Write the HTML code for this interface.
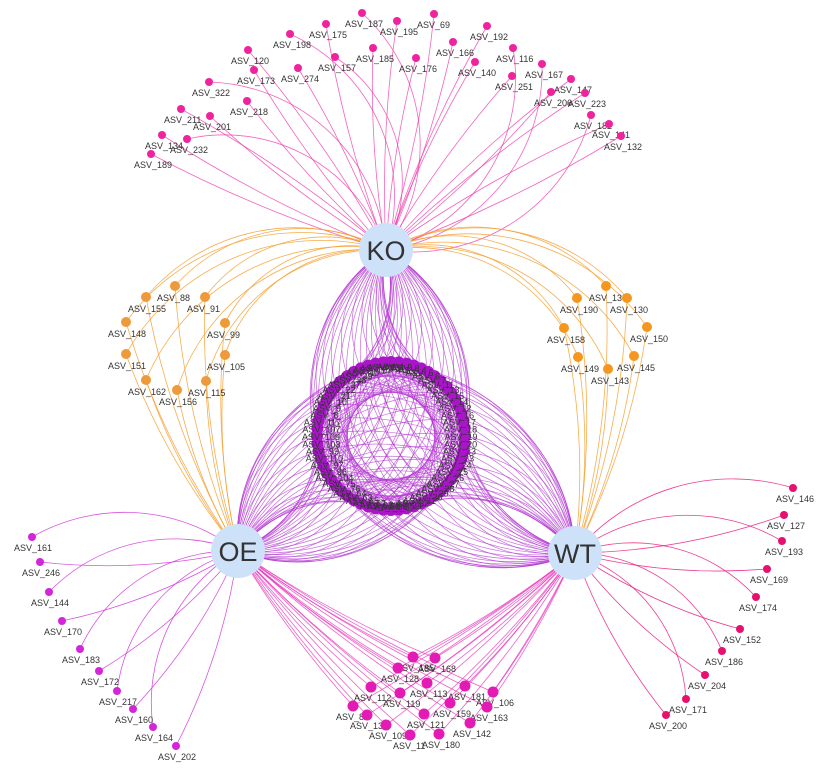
<!DOCTYPE html>
<html><head><meta charset="utf-8">
<style>
html,body{margin:0;padding:0;background:#fff;}
svg{display:block;font-family:"Liberation Sans",Arial,sans-serif;}
.lbl{font-size:9px;fill:#333;}
</style></head>
<body>
<svg id="net" width="817" height="769" viewBox="0 0 817 769">
<g id="edges"></g>
<g id="nodes"></g>
</svg>
<script>
// ---- data: hubs and member nodes per group ----
const hubNames = ["KO","OE","WT"];
const koOnly = ["ASV_187","ASV_195","ASV_69","ASV_175","ASV_198","ASV_192","ASV_120","ASV_185","ASV_157","ASV_176","ASV_166","ASV_140","ASV_116","ASV_173","ASV_274","ASV_251","ASV_167","ASV_147","ASV_206","ASV_223","ASV_322","ASV_218","ASV_211","ASV_201","ASV_182","ASV_141","ASV_132","ASV_134","ASV_232","ASV_189"];
const koOe = ["ASV_88","ASV_155","ASV_91","ASV_148","ASV_99","ASV_151","ASV_105","ASV_162","ASV_115","ASV_156"];
const koWt = ["ASV_138","ASV_190","ASV_130","ASV_158","ASV_150","ASV_149","ASV_145","ASV_143"];
const oeOnly = ["ASV_161","ASV_246","ASV_144","ASV_170","ASV_183","ASV_172","ASV_217","ASV_160","ASV_164","ASV_202"];
const wtOnly = ["ASV_146","ASV_127","ASV_193","ASV_169","ASV_174","ASV_152","ASV_186","ASV_204","ASV_171","ASV_200"];
const oeWt = ["ASV_185","ASV_168","ASV_128","ASV_112","ASV_113","ASV_181","ASV_106","ASV_119","ASV_82","ASV_159","ASV_163","ASV_136","ASV_121","ASV_109","ASV_142","ASV_11","ASV_180"];
const core = ["ASV_1","ASV_2","ASV_3","ASV_4","ASV_5","ASV_6","ASV_7","ASV_11","ASV_13","ASV_15","ASV_14","ASV_12","ASV_16","ASV_17","ASV_18","ASV_19","ASV_20","ASV_33","ASV_23","ASV_24","ASV_25","ASV_26","ASV_27","ASV_28","ASV_29","ASV_30","ASV_31","ASV_32","ASV_34","ASV_35","ASV_36","ASV_68","ASV_61","ASV_57","ASV_65","ASV_63","ASV_64","ASV_76","ASV_75","ASV_104","ASV_96","ASV_97","ASV_110","ASV_99","ASV_103","ASV_109","ASV_107","ASV_117","ASV_8","ASV_9","ASV_10","ASV_21","ASV_22","ASV_37","ASV_38","ASV_39","ASV_40","ASV_41","ASV_42","ASV_43"];

// ---- layout (positions, not data) ----
const hubPos = {KO:[386,250],OE:[238,551],WT:[575,553]};
const koOnlyPos = [[362,13],[397,21],[434,14],[326,24],[290,34],[487,26],[248,50],[373,48],[335,57],[416,58],[453,42],[475,62],[513,48],[254,70],[298,68],[512,76],[542,64],[571,79],[551,92],[585,93],[209,82],[247,101],[181,109],[210,116],[591,115],[609,124],[621,136],[162,135],[187,139],[151,154]];
const koOePos = [[175,286],[146,297],[205,297],[126,322],[225,323],[126,354],[225,355],[146,380],[206,381],[177,390]];
const koWtPos = [[606,286],[577,298],[627,298],[564,328],[647,327],[578,357],[634,356],[608,369]];
const oeOnlyPos = [[32,537],[40,562],[49,592],[62,621],[80,649],[99,671],[117,691],[133,709],[153,727],[176,746]];
const wtOnlyPos = [[793,488],[784,515],[782,541],[767,569],[756,597],[740,629],[722,651],[705,675],[686,699],[666,715]];
const oeWtPos = [[413,657],[435,658],[398,668],[371,687],[427,683],[465,686],[493,692],[400,693],[353,706],[450,703],[487,707],[367,715],[424,714],[386,725],[470,723],[410,735],[439,734]];
const coreC=[391,436], coreR=74;

const NS="http://www.w3.org/2000/svg";
const E=document.getElementById('edges'), N=document.getElementById('nodes');
function mk(t,a,p){const e=document.createElementNS(NS,t);for(const k in a)e.setAttribute(k,a[k]);p.appendChild(e);return e;}
function arc(p,q,color,w,op,curv,sweep){
  const dx=q[0]-p[0],dy=q[1]-p[1],d=Math.hypot(dx,dy),r=d*curv;
  const e=mk('path',{d:`M${p[0]},${p[1]}A${r},${r} 0 0,${sweep} ${q[0]},${q[1]}`,fill:'none',stroke:color,'stroke-width':w,'stroke-opacity':op},E);
  
  
}
function node(pos,r,fill,name,lx,ly,anchor){
  const c=mk('circle',{cx:pos[0],cy:pos[1],r:r,fill:fill},N);
  
  
  const t=mk('text',{x:lx,y:ly,'class':'lbl','text-anchor':anchor||'start'},N);
  t.textContent=name;
  
  
}
const KO=hubPos.KO,OE=hubPos.OE,WT=hubPos.WT;
// edges
koOnly.forEach((n,i)=>{const p=koOnlyPos[i];arc(KO,p,'#f032a8',0.8,0.75,i%4===0?0.75:5,i%2);});
koOe.forEach((n,i)=>{const p=koOePos[i];arc(KO,p,'#f5a030',0.8,0.85,0.8,0);arc(OE,p,'#f5a030',0.8,0.85,3,1);});
koWt.forEach((n,i)=>{const p=koWtPos[i];arc(KO,p,'#f5a030',0.8,0.85,0.8,1);arc(WT,p,'#f5a030',0.8,0.85,3,0);});
oeOnly.forEach((n,i)=>{arc(OE,oeOnlyPos[i],'#d02ad8',0.8,0.8,i%2?3:0.9,i%2);});
wtOnly.forEach((n,i)=>{arc(WT,wtOnlyPos[i],'#e8107a',0.8,0.8,i%2?3:0.9,1-(i%2));});
oeWt.forEach((n,i)=>{arc(OE,oeWtPos[i],'#e830b8',0.8,0.75,5,0);arc(WT,oeWtPos[i],'#e830b8',0.8,0.75,5,1);});
const corePos=core.map((n,i)=>{const a=-Math.PI/2+i*2*Math.PI/core.length;return [coreC[0]+coreR*Math.cos(a),coreC[1]+coreR*Math.sin(a),a];});
corePos.forEach((p,i)=>{
  arc(KO,p,'#b030d0',0.7,0.7,0.85,i%2);
  arc(OE,p,'#b030d0',0.7,0.7,0.85,i%2);
  arc(WT,p,'#b030d0',0.7,0.7,0.85,(i+1)%2);
});
// lattice chords inside core
corePos.forEach((p,i)=>{
  [12,18].forEach(k=>{const q=corePos[(i+k)%core.length];
    const l=mk('line',{x1:p[0],y1:p[1],x2:q[0],y2:q[1],stroke:'#b030d0','stroke-width':0.7,'stroke-opacity':0.6},E);
    
    });
});
// nodes
koOnly.forEach((n,i)=>{const p=koOnlyPos[i];node(p,4,'#f0239f',n,p[0]-17,p[1]+14);});
koOe.forEach((n,i)=>{const p=koOePos[i];node(p,5,'#ee9a3a',n,p[0]-18,p[1]+15);});
koWt.forEach((n,i)=>{const p=koWtPos[i];node(p,5,'#f5961e',n,p[0]-17,p[1]+15);});
oeOnly.forEach((n,i)=>{const p=oeOnlyPos[i];node(p,4,'#d326d9',n,p[0]-18,p[1]+14);});
wtOnly.forEach((n,i)=>{const p=wtOnlyPos[i];node(p,4,'#e8106e',n,p[0]-17,p[1]+14);});
oeWt.forEach((n,i)=>{const p=oeWtPos[i];node(p,5.5,'#e31ab4',n,p[0]-17,p[1]+14);});
corePos.forEach((p,i)=>{
  const c=mk('circle',{cx:p[0],cy:p[1],r:6,fill:'#a816c8'},N);
  
  
});
corePos.forEach((p,i)=>{
  const a=p[2],lr=coreR-4;
  const t=mk('text',{x:coreC[0]+lr*Math.cos(a),y:coreC[1]+lr*Math.sin(a)+4,'class':'lbl','text-anchor':'middle'},N);
  t.textContent=core[i];
  
  
});
// hubs
hubNames.forEach(h=>{const p=hubPos[h];
  const c=mk('circle',{cx:p[0],cy:p[1],r:27,fill:'#cde2f8'},N);
  
  
  const t=mk('text',{x:p[0],y:p[1]+10,'text-anchor':'middle','font-size':27,fill:'#333'},N);
  t.textContent=h;
  
  
});
</script>
</body></html>
